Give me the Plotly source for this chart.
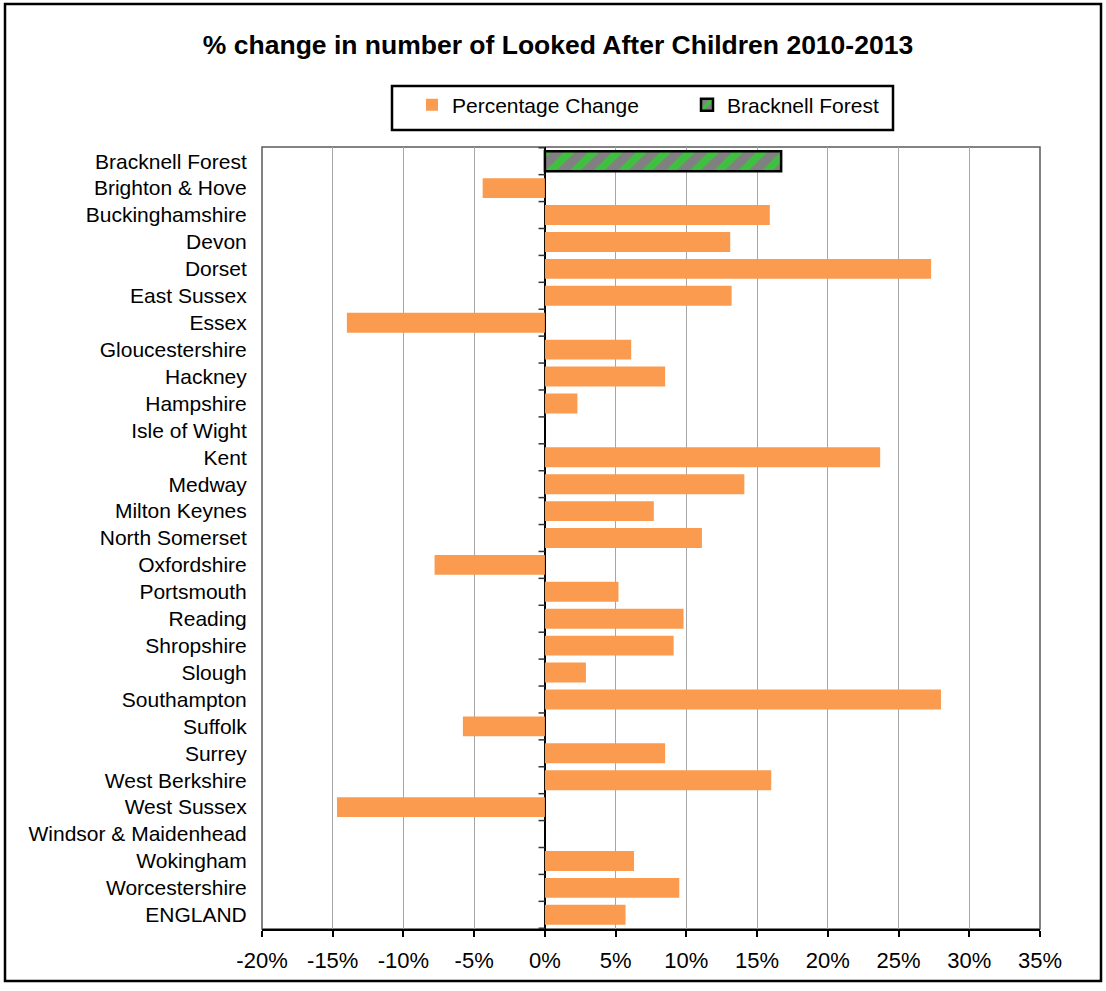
import plotly.graph_objects as go

# ---- data ----
categories = [
    "Bracknell Forest", "Brighton & Hove", "Buckinghamshire", "Devon", "Dorset",
    "East Sussex", "Essex", "Gloucestershire", "Hackney", "Hampshire",
    "Isle of Wight", "Kent", "Medway", "Milton Keynes", "North Somerset",
    "Oxfordshire", "Portsmouth", "Reading", "Shropshire", "Slough",
    "Southampton", "Suffolk", "Surrey", "West Berkshire", "West Sussex",
    "Windsor & Maidenhead", "Wokingham", "Worcestershire", "ENGLAND",
]
pct_change = [
    None, -4.4, 15.9, 13.1, 27.3,
    13.2, -14.0, 6.1, 8.5, 2.3,
    0.0, 23.7, 14.1, 7.7, 11.1,
    -7.8, 5.2, 9.8, 9.1, 2.9,
    28.0, -5.8, 8.5, 16.0, -14.7,
    0.0, 6.3, 9.5, 5.7,
]
bracknell_cat = ["Bracknell Forest"]
bracknell_val = [16.7]

tick_vals = [-20, -15, -10, -5, 0, 5, 10, 15, 20, 25, 30, 35]
tick_text = ["-20%", "-15%", "-10%", "-5%", "0%", "5%", "10%", "15%", "20%", "25%", "30%", "35%"]

title_text = "% change in number of Looked After Children 2010-2013"

FONT = "Liberation Sans, Arial, sans-serif"

fig = go.Figure()
fig.add_trace(go.Bar(
    y=categories, x=pct_change, orientation="h",
    name="Percentage Change",
    marker=dict(color="#FA9B4F", line=dict(width=0)),
))
fig.add_trace(go.Bar(
    y=bracknell_cat, x=bracknell_val, orientation="h",
    name="Bracknell Forest",
    marker=dict(
        color="#808080",
        line=dict(color="black", width=2.5),
        pattern=dict(shape="/", fgcolor="#00FF00", bgcolor="#808080",
                     size=17, solidity=0.45, fillmode="overlay"),
    ),
))

# plot area geometry (px)
L, R, T, B = 262, 1040, 147, 929
W, H = 1106, 991

def px_x(p):
    return (p - L) / (R - L)

def px_y(p):
    return (B - p) / (B - T)

shapes = []
# outer border
shapes.append(dict(type="rect", xref="paper", yref="paper",
                   x0=px_x(5), x1=px_x(1101), y0=px_y(981), y1=px_y(4),
                   line=dict(color="black", width=2.5), layer="below"))
# plot area border
shapes.append(dict(type="rect", xref="paper", yref="paper",
                   x0=0, x1=1, y0=0, y1=1,
                   line=dict(color="#5a5a5a", width=1.5), layer="below"))
# legend box
shapes.append(dict(type="rect", xref="paper", yref="paper",
                   x0=px_x(392), x1=px_x(893), y0=px_y(130), y1=px_y(86),
                   line=dict(color="black", width=2.5), layer="below"))
# small tick marks on the zero (category) axis at category boundaries
for i in range(len(categories) + 1):
    shapes.append(dict(type="line", xref="x", yref="y",
                       x0=-0.45, x1=0, y0=i - 0.5, y1=i - 0.5,
                       line=dict(color="#333333", width=1.5)))

fig.update_layout(
    width=W, height=H,
    margin=dict(l=L, r=W - R, t=T, b=H - B, autoexpand=False),
    paper_bgcolor="white", plot_bgcolor="white",
    font=dict(family=FONT, size=20, color="black"),
    title=dict(text="<b>" + title_text + "</b>", xref="container", yref="container",
               x=558 / W, y=1 - 45 / H, xanchor="center", yanchor="middle",
               font=dict(family=FONT, size=26.5, color="black")),
    barmode="overlay",
    bargap=0.26,
    showlegend=True,
    legend=dict(orientation="h", x=px_x(412), y=px_y(105), xanchor="left", yanchor="middle",
                bgcolor="rgba(0,0,0,0)", borderwidth=0, entrywidth=230,
                itemwidth=30,
                font=dict(family=FONT, size=21, color="black"), traceorder="normal"),
    shapes=shapes,
)
fig.update_xaxes(
    range=[-20, 35], tickvals=tick_vals, ticktext=tick_text,
    showgrid=True, gridcolor="#a6a6a6", gridwidth=1,
    zeroline=True, zerolinecolor="black", zerolinewidth=1.5,
    showline=True, linecolor="black", linewidth=1.5,
    ticks="outside", ticklen=6, tickcolor="black", tickwidth=1.5,
    ticklabelstandoff=5,
    tickfont=dict(family=FONT, size=22, color="black"),
    fixedrange=True,
)
fig.update_yaxes(
    categoryorder="array", categoryarray=categories, autorange="reversed",
    showgrid=False, zeroline=False, showline=False,
    ticks="outside", ticklen=10, tickcolor="rgba(0,0,0,0)",
    tickfont=dict(family=FONT, size=21, color="black"),
    fixedrange=True,
)

fig.write_html(
    "out.html",
    config={"displayModeBar": False},
    post_script="document.body.style.margin='0';document.body.style.overflow='hidden';",
)
